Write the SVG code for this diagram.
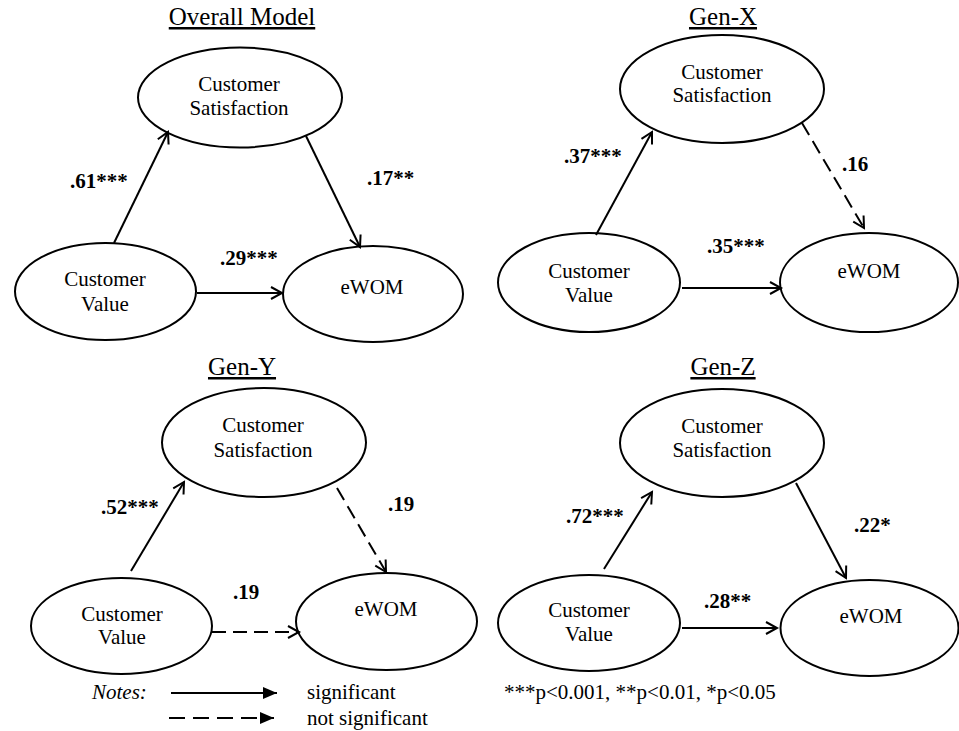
<svg xmlns="http://www.w3.org/2000/svg" width="959" height="731" viewBox="0 0 959 731">
<style>
text{font-family:'Liberation Serif','Times New Roman',Tinos,'DejaVu Serif','Noto Serif',serif;fill:#000}
.title{font-size:25px;text-anchor:middle;text-decoration:underline}
.lbl{font-size:21px;text-anchor:middle}
.coef{font-size:21px;font-weight:bold}
.note{font-size:21px}
ellipse{fill:#fff;stroke:#000;stroke-width:2}
.c{stroke:#000;stroke-width:2;fill:none;marker-end:url(#open)}
.d{stroke-dasharray:14 7}
</style>
<defs>
<marker id="open" markerUnits="userSpaceOnUse" markerWidth="16" markerHeight="16" refX="12" refY="7" orient="auto" overflow="visible">
<path d="M1,1 L12,7 L1,13" fill="none" stroke="#000" stroke-width="2"/>
</marker>
<marker id="solidTri" markerUnits="userSpaceOnUse" markerWidth="16" markerHeight="12" refX="14" refY="6" orient="auto">
<path d="M0,0 L14,6 L0,12 Z" fill="#000"/>
</marker>
</defs>

<g font-family="Liberation Serif, Times New Roman, serif">
<g id="titles">
<text class="title" x="242" y="25">Overall Model</text>
<text class="title" x="723" y="25">Gen-X</text>
<text class="title" x="242" y="375">Gen-Y</text>
<text class="title" x="723" y="375">Gen-Z</text>
</g>

<g id="o-cs"><ellipse cx="240" cy="97.5" rx="102" ry="50"/><text class="lbl" x="239" y="91">Customer</text><text class="lbl" x="239" y="115">Satisfaction</text></g>
<g id="o-cv"><ellipse cx="105.5" cy="291.5" rx="90.5" ry="48.5"/><text class="lbl" x="105" y="286">Customer</text><text class="lbl" x="105" y="311">Value</text></g>
<g id="o-ew"><ellipse cx="373" cy="294" rx="90" ry="48"/><text class="lbl" x="372" y="294">eWOM</text></g>

<g id="x-cs"><ellipse cx="722" cy="89" rx="102" ry="54"/><text class="lbl" x="722" y="79">Customer</text><text class="lbl" x="722" y="102">Satisfaction</text></g>
<g id="x-cv"><ellipse cx="589" cy="282.5" rx="91" ry="49.5"/><text class="lbl" x="589" y="278">Customer</text><text class="lbl" x="589" y="302">Value</text></g>
<g id="x-ew"><ellipse cx="869" cy="282.5" rx="89" ry="49.5"/><text class="lbl" x="869" y="278">eWOM</text></g>

<g id="y-cs"><ellipse cx="264" cy="442.5" rx="102" ry="54.5"/><text class="lbl" x="263" y="432">Customer</text><text class="lbl" x="263" y="457">Satisfaction</text></g>
<g id="y-cv"><ellipse cx="121.5" cy="626" rx="90.5" ry="48"/><text class="lbl" x="122" y="621">Customer</text><text class="lbl" x="122" y="644">Value</text></g>
<g id="y-ew"><ellipse cx="386.5" cy="621.5" rx="90.5" ry="48.5"/><text class="lbl" x="386" y="616">eWOM</text></g>

<g id="z-cs"><ellipse cx="722" cy="443" rx="102" ry="54"/><text class="lbl" x="722" y="433">Customer</text><text class="lbl" x="722" y="457">Satisfaction</text></g>
<g id="z-cv"><ellipse cx="589" cy="623" rx="91" ry="48"/><text class="lbl" x="589" y="617">Customer</text><text class="lbl" x="589" y="641">Value</text></g>
<g id="z-ew"><ellipse cx="869.5" cy="628" rx="89" ry="48"/><text class="lbl" x="871" y="623">eWOM</text></g>

<g id="connectors">
<line class="c" x1="114" y1="243" x2="168" y2="132"/>
<line class="c" x1="306" y1="136" x2="360" y2="247"/>
<line class="c" x1="197" y1="293" x2="282" y2="293"/>
<line class="c" x1="596" y1="235" x2="652" y2="132"/>
<line class="c d" x1="802" y1="123" x2="864" y2="228"/>
<line class="c" x1="682" y1="288" x2="781" y2="288"/>
<line class="c" x1="131" y1="571" x2="184" y2="482"/>
<line class="c d" x1="337" y1="488" x2="386" y2="572"/>
<line class="c d" x1="212" y1="632" x2="299" y2="632"/>
<line class="c" x1="604" y1="569" x2="652" y2="492"/>
<line class="c" x1="796" y1="483" x2="846" y2="578"/>
<line class="c" x1="682" y1="628" x2="777" y2="628"/>
</g>

<g id="coefficients">
<text class="coef" x="70" y="188">.61***</text>
<text class="coef" x="367" y="185">.17**</text>
<text class="coef" x="220" y="265">.29***</text>
<text class="coef" x="564" y="163">.37***</text>
<text class="coef" x="842" y="171">.16</text>
<text class="coef" x="707" y="253">.35***</text>
<text class="coef" x="101" y="514">.52***</text>
<text class="coef" x="388" y="511">.19</text>
<text class="coef" x="233" y="599">.19</text>
<text class="coef" x="566" y="523">.72***</text>
<text class="coef" x="854" y="532">.22*</text>
<text class="coef" x="704" y="608">.28**</text>
</g>

<g id="legend">
<text class="note" x="92" y="699" font-style="italic">Notes:</text>
<line x1="171" y1="693" x2="277" y2="693" stroke="#000" stroke-width="2" marker-end="url(#solidTri)"/>
<line x1="169" y1="718" x2="274" y2="718" stroke="#000" stroke-width="2" stroke-dasharray="16 8" marker-end="url(#solidTri)"/>
<text class="note" x="307" y="699">significant</text>
<text class="note" x="307" y="725">not significant</text>
<text class="note" x="504" y="699">***p&lt;0.001, **p&lt;0.01, *p&lt;0.05</text>
</g>
</g>
</svg>
